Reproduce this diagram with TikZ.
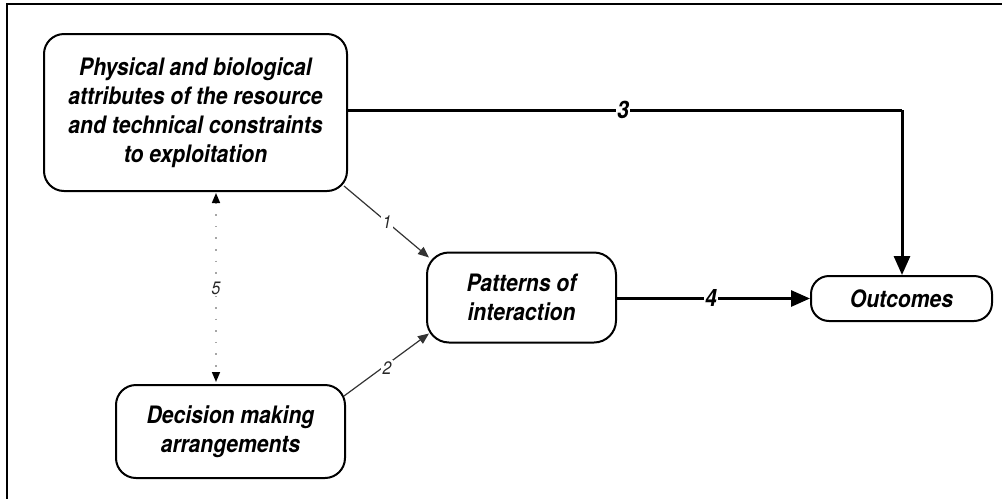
\documentclass[tikz,border=0pt]{standalone}
\usepackage{fontspec}
\setmainfont{TeX Gyre Heros}[FakeStretch=0.88]
\usetikzlibrary{arrows.meta}
\tikzset{
  box/.style={draw=black, line width=2pt, rounded corners=20pt, align=center,
    font=\fontsize{24}{29}\selectfont\bfseries\itshape, inner sep=0pt},
  heavy/.style={line width=3pt, -{Triangle[length=19pt,width=16pt]}},
  light/.style={line width=1.2pt, draw=black!80, -{Triangle[length=11pt,width=9pt]}},
  dots/.style={line width=1.6pt, draw=black!35, dash pattern=on 1.6pt off 10pt,
    {Triangle[length=10pt,width=8pt,black]}-{Triangle[length=10pt,width=8pt,black]}},
  biglab/.style={fill=white, inner sep=1pt, font=\fontsize{24}{24}\selectfont\bfseries\itshape},
  smalllab/.style={fill=white, inner sep=2pt, font=\fontsize{18}{18}\selectfont\itshape, text=black!85},
}
\begin{document}
\begin{tikzpicture}[x=1pt, y=-1pt]
\useasboundingbox (0,0) rectangle (1002,499);
% frame
\draw[line width=2pt] (1002,4) -- (7,4) -- (7,499);
% nodes
\node[box, minimum width=303pt, minimum height=157pt] (A) at (195.5,112.5)
  {Physical and biological\\attributes of the resource\\and technical constraints\\to exploitation};
\node[box, minimum width=189pt, minimum height=90pt, rounded corners=22pt] (P) at (521.5,297.5)
  {Patterns of\\interaction};
\node[box, minimum width=181pt, minimum height=45pt, rounded corners=18pt] (O) at (901.5,298.5)
  {Outcomes};
\node[box, minimum width=229pt, minimum height=93pt] (D) at (230.5,431.5)
  {Decision making\\arrangements};
% connectors
\coordinate (c3) at (902,110);
\coordinate (c5) at (216,300);
\draw[heavy, -] (A.east |- c3) -- (c3);
\draw[heavy] (c3) -- (c3 |- O.north);
\draw[heavy] (P.east |- O.west) -- (O.west);
\draw[light] ([shift={(-4,-6)}]A.south east) -- ([shift={(3,6)}]P.north west);
\draw[light] ([shift={(-2,12)}]D.north east) -- ([shift={(3,-10)}]P.south west);
\draw[dots] ([yshift=-1pt]A.south -| c5) -- ([yshift=2pt]D.north -| c5);
% labels
\node[biglab] (n3) at (623,110) {3};
\node[biglab] (n4) at (711,298) {4};
\node[smalllab] (n1) at (387,222) {1};
\node[smalllab] (n2) at (387,368) {2};
\node[smalllab] (n5) at (216,288) {5};
\end{tikzpicture}
\end{document}
